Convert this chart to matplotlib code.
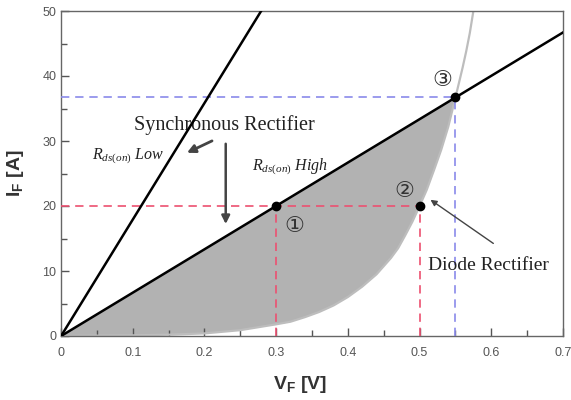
import numpy as np
import matplotlib
matplotlib.use("Agg")
import matplotlib.pyplot as plt

plt.rcParams['font.family'] = ['Liberation Sans', 'DejaVu Sans']
plt.rcParams['mathtext.fontset'] = 'custom'
plt.rcParams['mathtext.it'] = 'Liberation Serif:italic'
plt.rcParams['mathtext.rm'] = 'Liberation Serif'
plt.rcParams['mathtext.bf'] = 'Liberation Sans:bold'

# --- data ---
# synchronous rectifier, low Rds(on): straight line through origin
low_v = [0.0, 0.279]
low_i = [0.0, 50.0]
# synchronous rectifier, high Rds(on)
high_v = [0.0, 0.7]
high_i = [0.0, 46.7]
# diode forward characteristic
diode_v = [0.0, 0.05, 0.10, 0.15, 0.20, 0.25, 0.30, 0.32, 0.34, 0.36, 0.38,
           0.40, 0.42, 0.44, 0.46, 0.47, 0.48, 0.49, 0.50, 0.51, 0.52, 0.53,
           0.54, 0.55, 0.56, 0.565, 0.57, 0.575]
diode_i = [0.0, 0.05, 0.1, 0.2, 0.4, 0.9, 1.8, 2.2, 2.9, 3.7, 4.7,
           6.0, 7.6, 9.5, 12.0, 13.5, 15.5, 17.6, 20.0, 22.5, 25.5, 28.6,
           32.2, 36.7, 41.3, 43.8, 46.6, 50.0]

# operating points (1), (2), (3)
op_v = [0.30, 0.50, 0.55]
op_i = [20.0, 20.0, 36.7]
op_labels = ['①', '②', '③']
op_label_pos = [(0.326, 16.9), (0.479, 22.3), (0.532, 39.4)]

RED = '#ec5070'
BLUE = '#8a8aea'
ARROW = '#444444'

fig = plt.figure(figsize=(5.71, 4.0), dpi=100)
ax = fig.add_axes([0.107, 0.16, 0.879, 0.8125])

# shaded area between high-Rds line and diode curve
n_fill = diode_v.index(0.55) + 1
poly_v = diode_v[:n_fill] + [0.0]
poly_i = diode_i[:n_fill] + [0.0]
ax.fill(poly_v, poly_i, color='#b2b2b2', lw=0, zorder=1)
ax.plot(diode_v, diode_i, color='#bdbdbd', lw=1.6, zorder=2)

# guide lines
dash = (0, (5, 3.5))
ax.plot([0, op_v[1]], [op_i[0], op_i[1]], ls=dash, color=RED, lw=1.2, zorder=3)
ax.plot([op_v[0], op_v[0]], [0, op_i[0]], ls=dash, color=RED, lw=1.2, zorder=3)
ax.plot([op_v[1], op_v[1]], [0, op_i[1]], ls=dash, color=RED, lw=1.2, zorder=3)
ax.plot([0, op_v[2]], [op_i[2], op_i[2]], ls=dash, color=BLUE, lw=1.2, zorder=3)
ax.plot([op_v[2], op_v[2]], [0, op_i[2]], ls=dash, color=BLUE, lw=1.2, zorder=3)

ax.plot(low_v, low_i, color='black', lw=1.8, zorder=4)
ax.plot(high_v, high_i, color='black', lw=1.8, zorder=4)

ax.plot(op_v, op_i, 'o', color='black', ms=6, zorder=5)
for lab, (x, y) in zip(op_labels, op_label_pos):
    ax.text(x, y, lab, fontsize=16, ha='center', va='center', color='#333333',
            family=['DejaVu Sans', 'Noto Sans CJK JP'], zorder=6)

# annotations
ax.text(0.228, 32.5, 'Synchronous Rectifier', family='Liberation Serif',
        fontsize=14.5, ha='center', va='center', color='#222222')
ax.text(0.0434, 27.7, r'$R_{ds(on)}\ Low$', fontsize=11.5, ha='left', va='center',
        color='#222222')
ax.text(0.266, 26.0, r'$R_{ds(on)}\ High$', fontsize=11.5, ha='left', va='center',
        color='#222222')
ax.text(0.596, 10.9, 'Diode Rectifier', family='Liberation Serif',
        fontsize=14, ha='center', va='center', color='#222222')

ax.annotate('', xy=(0.172, 28.0), xytext=(0.214, 30.2),
            arrowprops=dict(arrowstyle='-|>', color=ARROW, lw=2, mutation_scale=12))
ax.annotate('', xy=(0.2296, 16.8), xytext=(0.2296, 30.0),
            arrowprops=dict(arrowstyle='-|>', color=ARROW, lw=1.8, mutation_scale=12))
ax.annotate('', xy=(0.512, 21.2), xytext=(0.606, 14.0),
            arrowprops=dict(arrowstyle='-|>', color=ARROW, lw=1.0, mutation_scale=9))

ax.set_xlim(0, 0.7)
ax.set_ylim(0, 50)
ax.set_xticks(np.arange(0, 0.71, 0.1))
ax.set_xticklabels(['0', '0.1', '0.2', '0.3', '0.4', '0.5', '0.6', '0.7'])
ax.set_xticks(np.arange(0.05, 0.7, 0.1), minor=True)
ax.set_yticks(np.arange(0, 51, 10))
ax.set_yticks(np.arange(5, 50, 10), minor=True)
ax.tick_params(which='both', direction='in', colors='#555555', labelsize=9,
               labelcolor='#555555')
ax.tick_params(which='major', length=6, width=1)
ax.tick_params(which='minor', length=4, width=1)
ax.tick_params(axis='x', pad=8)
for sp in ax.spines.values():
    sp.set_color('#666666')
    sp.set_linewidth(1.0)

fig.text(0.027, 0.568, r'$\mathbf{I_F}$ [A]', rotation=90, fontsize=14,
         fontweight='bold', ha='center', va='center', color='#333333')
fig.text(0.525, 0.038, r'$\mathbf{V_F}$ [V]', fontsize=14,
         fontweight='bold', ha='center', va='center', color='#333333')

fig.savefig('out.png', dpi=100)
